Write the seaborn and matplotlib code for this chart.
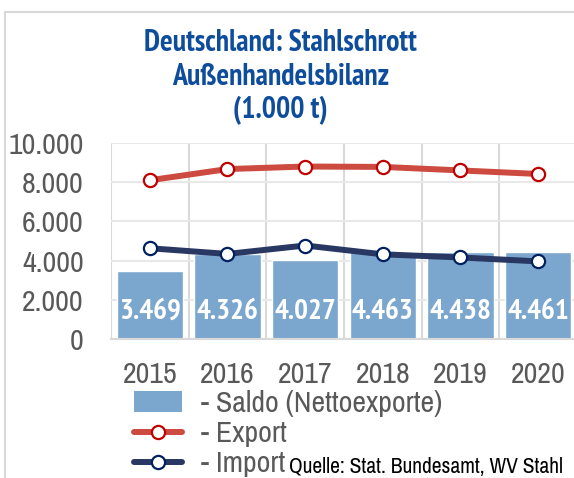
import pandas as pd
import seaborn as sns
import matplotlib.pyplot as plt
from matplotlib.patches import Patch, Rectangle
from matplotlib.lines import Line2D

years = ['2015', '2016', '2017', '2018', '2019', '2020']
saldo = [3469, 4326, 4027, 4463, 4438, 4461]
export = [8100, 8670, 8800, 8780, 8600, 8420]
imports = [4630, 4340, 4770, 4320, 4160, 3960]
saldo_labels = ['3.469', '4.326', '4.027', '4.463', '4.438', '4.461']
yticks = [0, 2000, 4000, 6000, 8000, 10000]
ytick_labels = ['0', '2.000', '4.000', '6.000', '8.000', '10.000']

bar_color = '#7BA7CF'
export_color = '#CC4A40'
import_color = '#293763'
grey = '#595959'
title_color = '#0E4C9C'

sns.set_style('white')
plt.rcParams['font.family'] = ['Archivo Narrow', 'DejaVu Sans']
bold_fonts = ['PT Sans Narrow', 'Roboto Condensed', 'DejaVu Sans']

df = pd.DataFrame({'Jahr': years, 'Saldo': saldo, 'Export': export, 'Import': imports})

fig = plt.figure(figsize=(5.74, 4.78), dpi=100)
fig.patches.append(Rectangle((5 / 574, -0.1), 1.2, 1 - 12 / 478 + 0.1, transform=fig.transFigure,
                             fill=False, edgecolor='#D9D9D9', linewidth=1.5))

ax = fig.add_axes([111 / 574, 1 - 339 / 478, 466 / 574, 196 / 478])
sns.barplot(data=df, x='Jahr', y='Saldo', color=bar_color, saturation=1, width=0.85,
            ax=ax, zorder=2)
sns.pointplot(data=df, x='Jahr', y='Export', color=export_color, errorbar=None,
              linewidth=4.3, markersize=9.5, markerfacecolor='white',
              markeredgecolor='#C00000', markeredgewidth=1.6, ax=ax, zorder=4)
sns.pointplot(data=df, x='Jahr', y='Import', color=import_color, errorbar=None,
              linewidth=4.3, markersize=9.5, markerfacecolor='white',
              markeredgecolor='#002060', markeredgewidth=1.6, ax=ax, zorder=4)

for i, lab in enumerate(saldo_labels):
    ax.text(i, 1380, lab, ha='center', va='center', color='white', fontsize=21,
            fontweight='bold', family=bold_fonts, zorder=5)

ax.set_xlim(-0.5, 5.5 - 2.6 / 77.6)
ax.set_ylim(0, 10000)
ax.set_yticks(yticks, ytick_labels)
ax.set_xticks([-0.5, 0.5, 1.5, 2.5, 3.5, 4.5, 5.5], minor=True)
ax.tick_params(axis='both', which='both', length=0, labelsize=21.5, labelcolor=grey)
ax.tick_params(axis='y', pad=19.5)
ax.tick_params(axis='x', pad=16)
ax.set_xlabel('')
ax.set_ylabel('')
ax.grid(axis='y', which='major', color='#E8E8E8', linewidth=1.5, zorder=0)
ax.grid(axis='x', which='minor', color='#D9D9D9', linewidth=1.5, zorder=0)
ax.set_axisbelow(True)
for s in ['top', 'right', 'left']:
    ax.spines[s].set_visible(False)
ax.spines['bottom'].set_color('#D9D9D9')
ax.spines['bottom'].set_linewidth(1.5)

for yy, line in [(43, 'Deutschland: Stahlschrott'), (77, 'Außenhandelsbilanz'), (110, '(1.000 t)')]:
    fig.text(0.488, 1 - yy / 478, line, ha='center', va='center', fontsize=21.5,
             fontweight='bold', family=bold_fonts, color=title_color)

handles = [
    Patch(facecolor=bar_color, edgecolor='none'),
    Line2D([], [], color=export_color, linewidth=4.3, marker='o', markersize=9.5,
           markerfacecolor='white', markeredgecolor='#C00000', markeredgewidth=1.6),
    Line2D([], [], color=import_color, linewidth=4.3, marker='o', markersize=9.5,
           markerfacecolor='white', markeredgecolor='#002060', markeredgewidth=1.6),
]
labels = ['- Saldo (Nettoexporte)', '- Export', '- Import']
fig.legend(handles, labels, loc='upper left', bbox_to_anchor=(134 / 574, 1 - 390 / 478),
           frameon=False, fontsize=21.5, labelcolor=grey, handlelength=1.6,
           handletextpad=0.65, labelspacing=0.1, borderpad=0, borderaxespad=0)

fig.text(289 / 574, 1 - 467 / 478, 'Quelle: Stat. Bundesamt, WV Stahl', ha='left',
         va='center', fontsize=15.5, color='black')

fig.savefig('out.png', dpi=100)
